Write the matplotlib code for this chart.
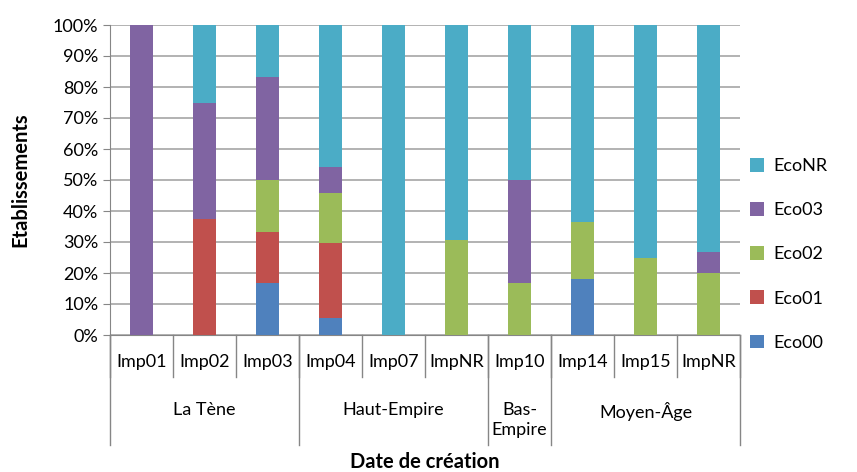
import numpy as np
import matplotlib.pyplot as plt
from matplotlib.ticker import PercentFormatter
import matplotlib.transforms as mtransforms

plt.rcParams['font.family'] = ['Lato', 'DejaVu Sans']

categories = ["Imp01", "Imp02", "Imp03", "Imp04", "Imp07", "ImpNR",
              "Imp10", "Imp14", "Imp15", "ImpNR"]
groups = ["La Tène", "Haut-Empire", "Bas-\nEmpire", "Moyen-Âge"]
group_sizes = [3, 3, 1, 3]

eco00 = [0, 0, 16.67, 5.41, 0, 0, 0, 18.18, 0, 0]
eco01 = [0, 37.5, 16.67, 24.32, 0, 0, 0, 0, 0, 0]
eco02 = [0, 0, 16.67, 16.22, 0, 30.77, 16.67, 18.18, 25.0, 20.0]
eco03 = [100, 37.5, 33.33, 8.11, 0, 0, 33.33, 0, 0, 6.67]
ecoNR = [0, 25.0, 16.67, 45.95, 100, 69.23, 50.0, 63.64, 75.0, 73.33]

series = [("Eco00", eco00, "#4F81BD"),
          ("Eco01", eco01, "#C0504D"),
          ("Eco02", eco02, "#9BBB59"),
          ("Eco03", eco03, "#8064A2"),
          ("EcoNR", ecoNR, "#4BACC6")]

fig = plt.figure(figsize=(8.57, 4.72), dpi=100)
ax = fig.add_axes([110 / 857, 1 - 335 / 472, 630 / 857, 310 / 472])

x = np.arange(len(categories))
bottom = np.zeros(len(categories))
for name, vals, col in series:
    ax.bar(x, vals, 0.38, bottom=bottom, color=col, label=name, zorder=3)
    bottom += np.array(vals)

ax.set_xlim(-0.5, len(categories) - 0.5)
ax.set_ylim(0, 100)
ax.set_yticks(np.arange(0, 101, 10))
ax.yaxis.set_major_formatter(PercentFormatter(decimals=0))
ax.grid(axis='y', color='#A6A6A6', linewidth=1.2, zorder=0)
for s in ['top', 'right']:
    ax.spines[s].set_visible(False)
ax.spines['left'].set_color('#868686')
ax.spines['bottom'].set_color('#868686')
ax.tick_params(axis='y', colors='#868686', labelcolor='black', labelsize=13, length=5)
ax.tick_params(axis='x', length=0, labelbottom=False)

trans = mtransforms.blended_transform_factory(ax.transData, ax.transAxes)
for b in np.arange(-0.5, len(categories), 1):
    ax.plot([b, b], [0, -0.135], transform=trans, color='#868686', lw=1, clip_on=False)
for i, c in enumerate(categories):
    ax.text(i, -0.087, c, transform=trans, ha='center', va='center', fontsize=13)

edges = np.concatenate([[0], np.cumsum(group_sizes)]) - 0.5
for b in edges:
    ax.plot([b, b], [0, -0.355], transform=trans, color='#868686', lw=1, clip_on=False)
for g, lo, hi in zip(groups, edges[:-1], edges[1:]):
    ax.text((lo + hi) / 2, -0.215, g, transform=trans, ha='center', va='top',
            fontsize=13, linespacing=1.35)

ax.set_ylabel("Etablissements", fontsize=14.5, fontweight='bold', labelpad=16)
fig.text(425 / 857, 1 - 462 / 472, "Date de création", ha='center', va='center',
         fontsize=14.5, fontweight='bold')

handles, labels = ax.get_legend_handles_labels()
ax.legend(handles[::-1], labels[::-1], loc='center left', bbox_to_anchor=(0.99, 0.26),
          frameon=False, fontsize=13, handlelength=0.8, handleheight=0.8,
          labelspacing=1.55, handletextpad=0.5)

fig.savefig("out.png", dpi=100)
